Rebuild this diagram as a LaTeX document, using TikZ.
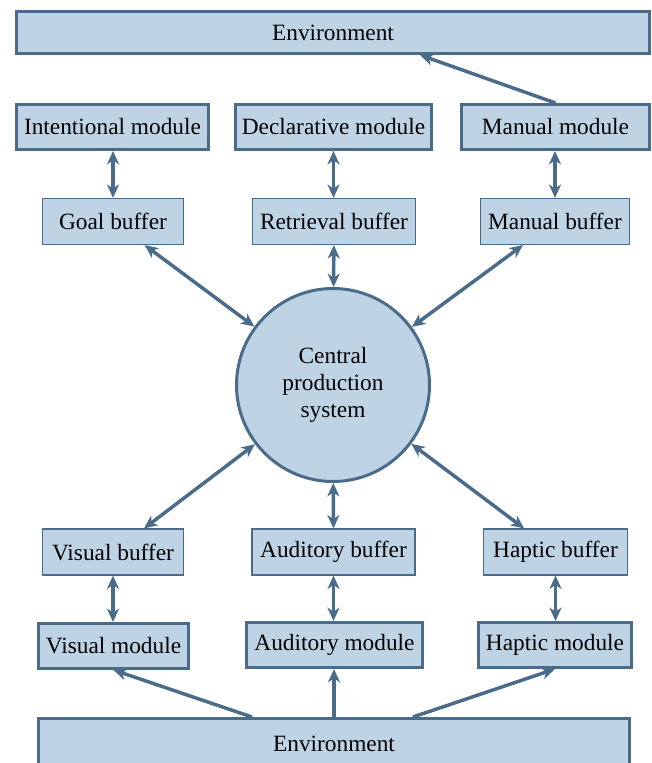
\documentclass[tikz,border=0pt]{standalone}
\usepackage{fontspec}
\setmainfont{Liberation Serif}
\usetikzlibrary{arrows.meta,positioning,calc}
\definecolor{boxfill}{RGB}{190,212,228}
\definecolor{boxline}{RGB}{74,108,138}
\tikzset{
  envbox/.style={draw=boxline,fill=boxfill,line width=2.25pt,inner sep=0pt},
  module/.style={draw=boxline,fill=boxfill,line width=2.25pt,minimum height=33.75pt,inner sep=0pt},
  buffer/.style={draw=boxline,fill=boxfill,line width=0.9pt,minimum height=34.5pt,inner sep=0pt},
  central/.style={circle,draw=boxline,fill=boxfill,line width=2.25pt,minimum size=144.75pt,align=center,inner sep=0pt},
  link/.style={draw=boxline,line width=2.6pt},
  uni/.style={link,-{Stealth[length=10pt,width=9pt,inset=3pt]}},
  bi/.style={link,{Stealth[length=10pt,width=9pt,inset=3pt]}-{Stealth[length=10pt,width=9pt,inset=3pt]}}
}
\begin{document}
\begin{tikzpicture}[x=0.75pt,y=-0.75pt,font=\fontsize{17.5}{20.5}\selectfont]
  \useasboundingbox (0,0) rectangle (652,763);

  % Environment (top)
  \node[envbox,minimum width=474.75pt,minimum height=31.5pt] (envtop) at (333,32.5) {Environment};

  % Modules (top row)
  \node[module,minimum width=144pt] (intent) at (112.5,127) {Intentional module};
  \node[module,minimum width=147pt] (decl) at (333.5,127) {Declarative module};
  \node[module,minimum width=141pt] (manmod) at (555.5,127) {Manual module};

  % Buffers (top row)
  \node[buffer,minimum width=105.75pt] (goal) at (113,221.5) {Goal buffer};
  \node[buffer,minimum width=122.25pt] (retr) at (334,221.5) {Retrieval buffer};
  \node[buffer,minimum width=111.75pt] (manbuf) at (555,221.5) {Manual buffer};

  % Central production system
  \node[central] (cps) at (333,385) {Central\\production\\system};

  % Buffers (bottom row)
  \node[buffer,minimum width=105.75pt] (visbuf) at (113,552) {Visual buffer};
  \node[buffer,minimum width=122.25pt] (audbuf) at (333.5,552) {Auditory buffer};
  \node[buffer,minimum width=108pt] (hapbuf) at (555.5,552) {Haptic buffer};

  % Modules (bottom row)
  \node[module,minimum width=112.5pt] (vismod) at (113.5,646) {Visual module};
  \node[module,minimum width=132pt] (audmod) at (334.5,645) {Auditory module};
  \node[module,minimum width=114.75pt] (hapmod) at (555,645) {Haptic module};

  % Environment (bottom)
  \node[envbox,minimum width=443.25pt,minimum height=37.5pt] (envbot) at (334,743.5) {Environment};

  % Connections
  \draw[uni] (manmod.north) -- ($(envtop.south)+(87,0)$);
  \draw[bi] (goal.north) -- (goal.north |- intent.south);
  \draw[bi] (decl.south) -- (decl.south |- retr.north);
  \draw[bi] (manbuf.north) -- (manbuf.north |- manmod.south);
  \draw[bi] (goal) -- (cps);
  \draw[bi] (retr) -- (cps);
  \draw[bi] (manbuf) -- (cps);
  \draw[bi] (cps) -- (visbuf);
  \draw[bi] (cps) -- (audbuf);
  \draw[bi] (cps) -- (hapbuf);
  \draw[bi] (visbuf.south) -- (visbuf.south |- vismod.north);
  \draw[bi] (audbuf.south) -- (audbuf.south |- audmod.north);
  \draw[bi] (hapbuf.south) -- (hapbuf.south |- hapmod.north);
  \draw[uni] ($(envbot.north)+(-82,0)$) -- (vismod.south);
  \draw[uni] (envbot.north) -- (envbot.north |- audmod.south);
  \draw[uni] ($(envbot.north)+(79,0)$) -- (hapmod.south);
\end{tikzpicture}
\end{document}
